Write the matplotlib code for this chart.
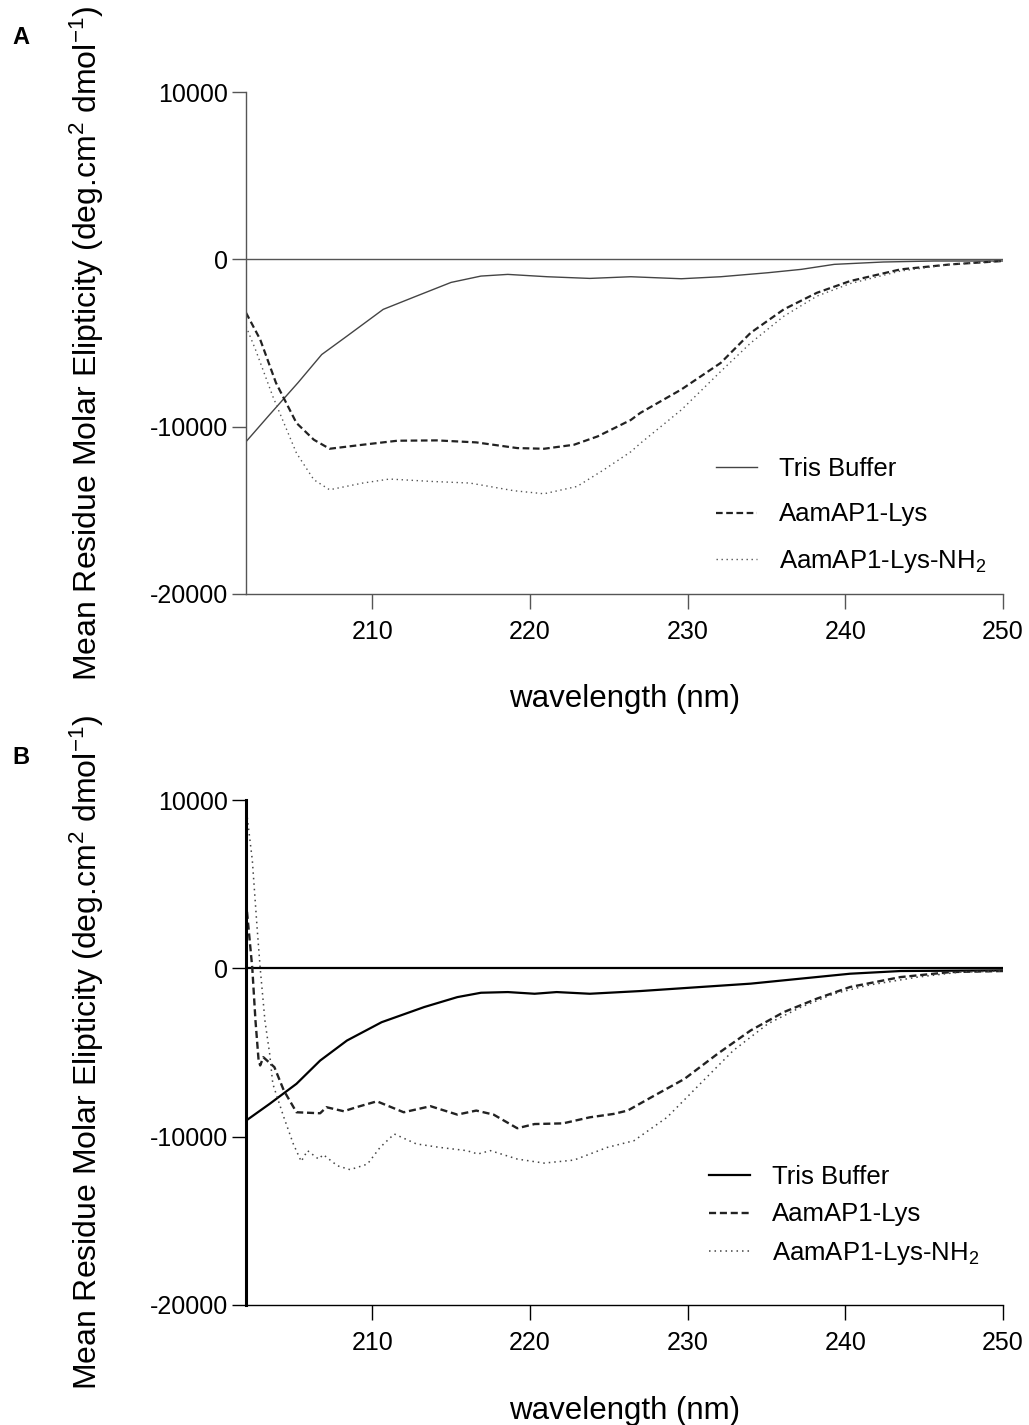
import numpy as np
import matplotlib.pyplot as plt

plt.rcParams['font.family'] = ['Liberation Sans', 'DejaVu Sans']
plt.rcParams['mathtext.fontset'] = 'custom'
plt.rcParams['mathtext.rm'] = 'Liberation Sans'
plt.rcParams['mathtext.it'] = 'Liberation Sans'
plt.rcParams['axes.unicode_minus'] = False

# ---- panel A data (wavelength nm, mean residue molar ellipticity) ----
a_tris_w = [202.0, 203.5, 205.3, 206.8, 208.4, 210.7, 212.8, 215.0, 216.9, 218.6, 221.1, 223.8,
            226.4, 229.6, 232.1, 235.1, 237.2, 239.3, 242.4, 245.6, 250.0]
a_tris_v = [-10900, -9280, -7370, -5690, -4590, -2990, -2200, -1380, -1000, -900, -1040, -1140,
            -1040, -1160, -1040, -800, -600, -300, -160, -100, -100]

a_lys_w = [202.0, 202.9, 203.9, 205.2, 206.3, 207.3, 209.4, 211.6, 214.1, 216.6, 219.2, 220.9,
           222.8, 224.3, 226.4, 227.0, 229.6, 232.1, 234.0, 236.1, 238.2, 240.3, 243.5, 246.7, 250.0]
a_lys_v = [-3190, -4790, -7380, -9780, -10780, -11320, -11080, -10840, -10820, -10940, -11280, -11320,
           -11080, -10580, -9600, -9180, -7780, -6190, -4390, -2990, -2000, -1300, -600, -300, -100]

a_nh2_w = [202.0, 202.6, 203.7, 205.2, 206.3, 207.3, 209.4, 211.1, 213.7, 216.2, 219.0, 220.9,
           223.0, 224.7, 226.4, 227.0, 228.3, 229.6, 230.8, 232.1, 234.0, 236.1, 238.2, 240.3,
           243.5, 246.7, 250.0]
a_nh2_v = [-4000, -5390, -8190, -11580, -13170, -13770, -13370, -13130, -13270, -13370, -13830, -14010,
           -13570, -12570, -11500, -11000, -10000, -9000, -7900, -6700, -5000, -3400, -2200, -1450,
           -700, -300, -100]

# ---- panel B data ----
b_tris_w = [202.0, 203.5, 205.2, 206.7, 208.4, 210.6, 213.3, 215.4, 216.9, 218.6, 220.3, 221.7,
            223.8, 227.0, 230.8, 234.0, 237.2, 240.3, 243.5, 250.0]
b_tris_v = [-9050, -8050, -6860, -5480, -4290, -3200, -2300, -1710, -1450, -1410, -1510, -1410,
            -1510, -1350, -1110, -910, -610, -320, -160, -120]

b_lys_w = [202.0, 202.2, 202.4, 202.6, 202.8, 202.9, 203.1, 203.8, 204.4, 205.2, 206.7, 207.1,
           208.2, 209.0, 210.3, 212.0, 213.7, 215.4, 216.6, 217.7, 219.2, 220.3, 222.1, 223.8,
           225.3, 226.2, 227.7, 229.8, 231.9, 234.0, 236.1, 238.2, 240.3, 243.5, 246.7, 250.0]
b_lys_v = [4000, 2000, 0, -3100, -5480, -5770, -5280, -5870, -7260, -8550, -8610, -8250,
           -8490, -8250, -7900, -8550, -8190, -8690, -8450, -8690, -9500, -9250, -9210, -8850,
           -8650, -8450, -7660, -6570, -5080, -3690, -2600, -1800, -1110, -520, -220, -160]

b_nh2_w = [202.0, 202.4, 202.7, 202.9, 203.2, 203.5, 203.7, 204.4, 205.0, 205.5, 205.9, 206.6,
           206.9, 207.8, 208.6, 209.7, 210.5, 211.4, 212.8, 214.3, 216.0, 216.7, 217.5, 219.2,
           220.9, 222.8, 224.9, 226.6, 228.7, 230.8, 232.9, 235.1, 237.2, 239.3, 241.4, 244.6,
           247.3, 250.0]
b_nh2_v = [9600, 6430, 2460, 0, -3100, -5080, -6860, -8850, -10430, -11470, -10830, -11330,
           -11070, -11730, -11960, -11630, -10640, -9840, -10430, -10640, -10830, -11030, -10830, -11330,
           -11570, -11390, -10640, -10240, -8850, -6860, -4880, -3290, -2300, -1510, -1010, -520,
           -220, -160]

labels = ['Tris Buffer', 'AamAP1-Lys', 'AamAP1-Lys-NH$_2$']
xticks = [210, 220, 230, 240, 250]
yticks = [10000, 0, -10000, -20000]
ylab = 'Mean Residue Molar Elipticity (deg.cm$^2$ dmol$^{-1}$)'

fig = plt.figure(figsize=(10.29, 14.25), dpi=100)
W, H = 1029.0, 1425.0

def make_axes(top, bottom):
    return fig.add_axes([246 / W, 1 - bottom / H, (1003 - 246) / W, (bottom - top) / H])

axA = make_axes(92, 594)
axB = make_axes(800, 1305)

def style(ax, col, spine_lw, left_lw):
    ax.set_xlim(202, 250)
    ax.set_ylim(-20000, 10000)
    ax.set_xticks(xticks)
    ax.set_yticks(yticks)
    ax.spines['top'].set_visible(False)
    ax.spines['right'].set_visible(False)
    ax.spines['bottom'].set_linewidth(spine_lw)
    ax.spines['bottom'].set_color(col)
    ax.spines['left'].set_linewidth(left_lw)
    ax.spines['left'].set_color(col)
    ax.tick_params(axis='x', length=11, width=spine_lw, color=col, labelsize=18, pad=8)
    ax.tick_params(axis='y', length=10, width=spine_lw, color=col, labelsize=18, pad=3)
    ax.set_ylabel(ylab, fontsize=23)
    ax.yaxis.set_label_coords(-0.185, 0.5)
    ax.set_xlabel('wavelength (nm)', fontsize=22.5)

# panel A: thin grey lines
axA.axhline(0, color='#555555', lw=1.0, zorder=1)
axA.plot(a_tris_w, a_tris_v, color='#444444', lw=1.0, label=labels[0])
axA.plot(a_lys_w, a_lys_v, color='#222222', lw=1.6, ls=(0, (3, 1.6)), label=labels[1])
axA.plot(a_nh2_w, a_nh2_v, color='#555555', lw=1.0, ls=(0, (1, 2.6)), label=labels[2])
style(axA, '#555555', 1.0, 1.0)
axA.xaxis.set_label_coords(0.5, -0.18)

# panel B: black lines
axB.axhline(0, color='black', lw=1.6, zorder=1)
axB.plot(b_tris_w, b_tris_v, color='black', lw=1.6, label=labels[0])
axB.plot(b_lys_w, b_lys_v, color='#222222', lw=1.7, ls=(0, (3, 1.6)), label=labels[1])
axB.plot(b_nh2_w, b_nh2_v, color='#444444', lw=1.1, ls=(0, (1, 2.6)), label=labels[2])
style(axB, 'black', 1.0, 2.2)
axB.xaxis.set_label_coords(0.5, -0.18)

axA.legend(loc='center left', bbox_to_anchor=(716 / W, 1 - 516 / H), bbox_transform=fig.transFigure,
           frameon=False, fontsize=18.5, handlelength=1.6, handletextpad=0.85,
           labelspacing=0.82, borderpad=0, borderaxespad=0)
axB.legend(loc='center left', bbox_to_anchor=(709 / W, 1 - 1216 / H), bbox_transform=fig.transFigure,
           frameon=False, fontsize=18.5, handlelength=1.6, handletextpad=0.85,
           labelspacing=0.54, borderpad=0, borderaxespad=0)

fig.text(12 / W, 1 - 37 / H, 'A', fontsize=17, fontweight='bold', va='center', ha='left')
fig.text(12 / W, 1 - 757 / H, 'B', fontsize=17, fontweight='bold', va='center', ha='left')

fig.savefig('out.png', dpi=100)
